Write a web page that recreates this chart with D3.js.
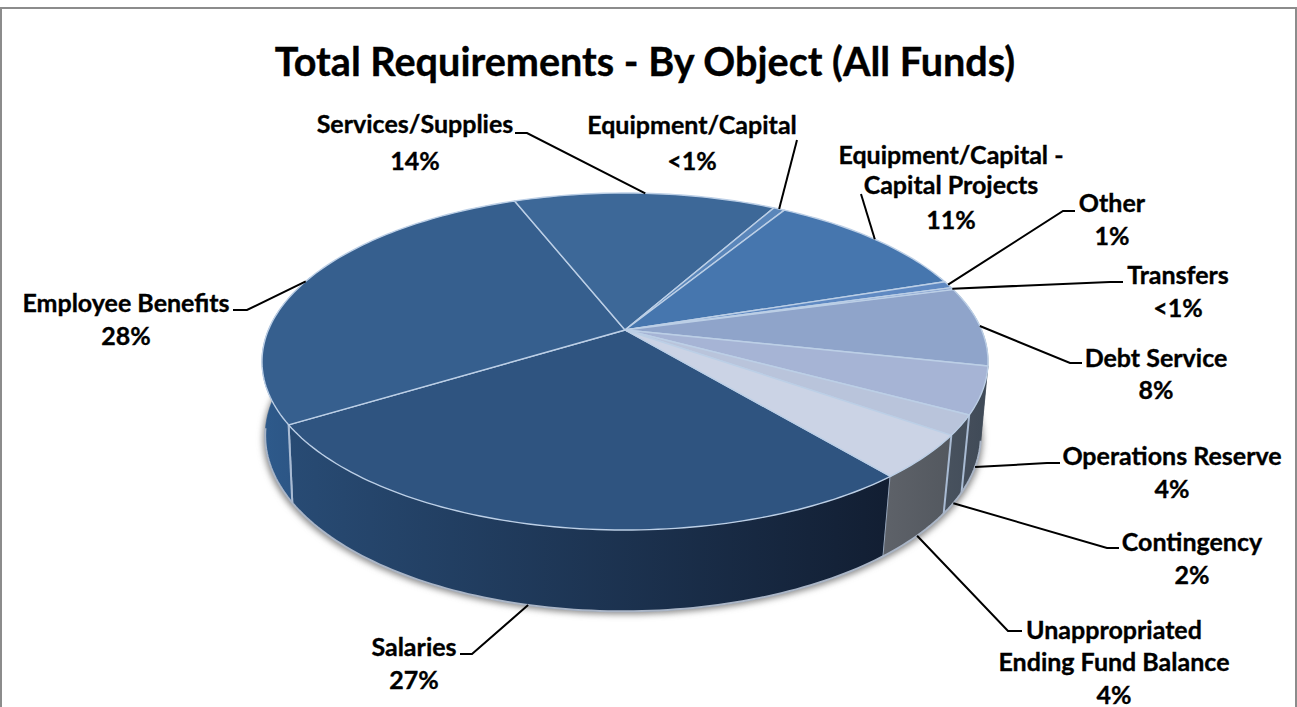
<!DOCTYPE html>
<html><head><meta charset="utf-8">
<script src="https://cdn.jsdelivr.net/npm/d3@7/dist/d3.min.js"></script>
<style>html,body{margin:0;padding:0;background:#fff}svg{display:block}text{font-family:Lato,sans-serif;font-weight:700;fill:#000;stroke:#000;stroke-width:0.35px}</style>
</head><body><svg id="c" width="1297" height="707"></svg>
<script>
const titleText = "Total Requirements - By Object (All Funds)";
const categories = ["Salaries","Employee Benefits","Services/Supplies","Equipment/Capital","Equipment/Capital - Capital Projects","Other","Transfers","Debt Service","Operations Reserve","Contingency","Unappropriated Ending Fund Balance"];
const shares = [27.2,27.9,14.0,0.6,11.25,0.67,0.22,7.6,4.5,1.9,4.2];
const shareLabels = ["27%","28%","14%","<1%","11%","1%","<1%","8%","4%","2%","4%"];
const labelLines = [["Salaries"],["Employee Benefits"],["Services/Supplies"],["Equipment/Capital"],["Equipment/Capital -","Capital Projects"],["Other"],["Transfers"],["Debt Service"],["Operations Reserve"],["Contingency"],["Unappropriated","Ending Fund Balance"]];
const topColors = ["#2f5480","#365f8e","#3d6898","#5a86ba","#4676ae","#5f89c2","#86a2d0","#8fa4ca","#a6b4d5","#b9c4db","#cbd3e5"];
const sideStart = ["#284b74","#2e5a8b","#33557f","#3a5f8f","#3a6298","#4a6a9a","#5a7090","#454e5b","#454e5b","#48525e","#5e6269"];
const sideEnd   = ["#121e32","#2b5382","#33557f","#3a5f8f","#3a6298","#4a6a9a","#5a7090","#3f4a57","#3f4a57","#444e5b","#53585f"];

// layout of the labels and their leaders
const labelCenterX = [414,126,415,692,951,1112,1178,1156,1172,1192,1114];
const labelY = [[646,679],[302,335],[123,160],[124,160],[154,184,219],[202,235],[274,307],[357,389],[455,488],[541,574],[629,661,694]];
const elbows = [[[472,654],[460,654]],[[247,310],[233,310]],[[527,133],[515,133]],[[797,140]],[[861,194]],[[1063,211],[1075,211]],[[1110,282],[1123,282]],[[1070,363],[1082,363]],[[1047,463],[1060,463]],[[1107,548],[1119,548]],[[1008,631],[1022,631]]];
const anchorOnBase = [1,0,0,0,0,0,0,0,1,1,1];
const anchorShift = [3.5,0,0,0,0,0,0,0,0,0,0];

// perspective maps for the top face and the base of the disc
const topMap = {cx:625,cy:330,R:356.6,S:162.6,k:0.187};
const baseMap = {cx:623,cy:404,R:352,S:170,k:0.18};
const project = (m,a)=>{const c=Math.cos(a),s=Math.sin(a),w=1-m.k*s;return [m.cx+m.R*c/w,m.cy+m.S*s/w];};

const svg = d3.select("#c");
const defs = svg.append("defs");
defs.append("filter").attr("id","soft").attr("x","-10%").attr("y","-10%").attr("width","120%").attr("height","120%")
  .append("feGaussianBlur").attr("stdDeviation",3);

svg.append("path").attr("d","M1,707V8H1296V707").attr("fill","none").attr("stroke","#8c8c8c").attr("stroke-width",2);
svg.append("text").attr("x",645).attr("y",60).attr("text-anchor","middle").attr("dominant-baseline","central")
  .style("font-size","39.6px").text(titleText);

const rad = d3.scaleLinear().domain([0,360]).range([0,2*Math.PI]);
const pie = d3.pie().sort(null).value(d=>d).startAngle(rad(50.4)).endAngle(rad(50.4)+2*Math.PI);
const arcs = pie(shares);
const samples = (a0,a1)=>d3.range(0,1.0001,1/Math.max(2,Math.ceil((a1-a0)/0.02))).map(t=>a0+(a1-a0)*t);
const line = d3.line();

// shadow under the disc
const fullCircle = samples(0,2*Math.PI);
const shadowMap = Object.assign({},baseMap,{cy:baseMap.cy+3,R:baseMap.R+2});
svg.append("path").attr("d",line(fullCircle.map(a=>project(shadowMap,a)))+"Z").attr("fill","#8a8a8a").attr("filter","url(#soft)");

// side walls
const wallMin = rad(-20), wallMax = rad(200);
const wallGroup = svg.append("g");
arcs.forEach((d,i)=>{
  let a0=d.startAngle,a1=d.endAngle;
  if(a0>Math.PI*1.5){a0-=2*Math.PI;a1-=2*Math.PI;}
  const lo=Math.max(a0,wallMin),hi=Math.min(a1,wallMax);
  if(hi<=lo) return;
  const pts=samples(lo,hi);
  const poly=pts.map(a=>project(topMap,a)).concat(pts.slice().reverse().map(a=>project(baseMap,a)));
  const gid="wall"+i;
  const xs=poly.map(p=>p[0]);
  const g=defs.append("linearGradient").attr("id",gid).attr("gradientUnits","userSpaceOnUse")
    .attr("x1",d3.min(xs)).attr("x2",d3.max(xs)).attr("y1",0).attr("y2",0);
  g.append("stop").attr("offset",0).attr("stop-color",sideStart[i]);
  g.append("stop").attr("offset",1).attr("stop-color",sideEnd[i]);
  wallGroup.append("path").attr("d",line(poly)+"Z").attr("fill",`url(#${gid})`).attr("stroke",`url(#${gid})`).attr("stroke-width",0.5);
  const seam=a=>wallGroup.append("path").attr("d",line([project(topMap,a),project(baseMap,a)])).attr("stroke","#a9bbd3").attr("stroke-width",2).attr("fill","none");
  if(a0>rad(20)&&a0<rad(175)) seam(a0);
  if(i===0) seam(a1);
});
// pale edge along the base
svg.append("path").attr("d",line(samples(rad(12),rad(172)).map(a=>project(baseMap,a)))).attr("fill","none").attr("stroke","#aab5c6").attr("stroke-width",2);

// top face
const center=[topMap.cx,topMap.cy];
svg.append("g").selectAll("path").data(arcs).join("path")
  .attr("d",d=>line([center].concat(samples(d.startAngle,d.endAngle).map(a=>project(topMap,a))))+"Z")
  .attr("fill",(d,i)=>topColors[i]).attr("stroke","#bccfe6").attr("stroke-width",1.4).attr("stroke-linejoin","round");

// leaders
svg.append("g").selectAll("path").data(arcs).join("path")
  .attr("d",(d,i)=>{
    const mid=(d.startAngle+d.endAngle)/2+rad(anchorShift[i]);
    const start=project(anchorOnBase[i]?baseMap:topMap,mid);
    return line([start].concat(elbows[i]));
  }).attr("fill","none").attr("stroke","#000").attr("stroke-width",2);

// labels
const labels=svg.append("g").selectAll("text").data(categories).join("text")
  .attr("text-anchor","middle").style("font-size","25px");
labels.each(function(d,i){
  const rows=labelLines[i].concat([shareLabels[i]]);
  d3.select(this).selectAll("tspan").data(rows).join("tspan")
    .attr("x",labelCenterX[i]).attr("y",(r,j)=>labelY[i][j]).attr("dominant-baseline","central").text(r=>r);
});
</script></body></html>
